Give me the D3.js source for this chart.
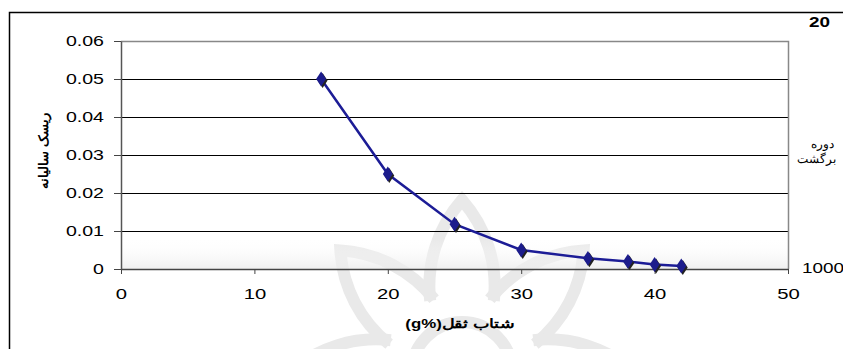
<!DOCTYPE html>
<html>
<head>
<meta charset="utf-8">
<script src="https://cdn.jsdelivr.net/npm/d3@7"></script>
<style>
  body { margin: 0; background: #fff; }
  svg { display: block; font-family: "Liberation Sans", Arial, sans-serif; }
  .tick text { font-size: 14px; fill: #000; }
</style>
</head>
<body>
<div id="chart"></div>
<script>
// data
var accel = [15, 20, 25, 30, 35, 38, 40, 42];          // شتاب ثقل (g%)
var risk = [0.05, 0.025, 0.0118, 0.005, 0.0028, 0.002, 0.0012, 0.0008];
var xTicks = [0, 10, 20, 30, 40, 50];
var yTicks = [0, 0.01, 0.02, 0.03, 0.04, 0.05, 0.06];
var returnLabels = ["20", "1000"];

var W = 843, H = 349;
var margins = { left: 121, top: 41, right: 55, bottom: 80 };
var width = W - margins.left - margins.right;
var height = H - margins.top - margins.bottom;
var stretch = 1.35;   // the source text is drawn wide

var svg = d3.select("#chart").append("svg")
    .attr("width", W).attr("height", H);

// faint watermark behind the chart
var wm = svg.append("g").attr("fill", "none").attr("stroke", "#e9e9e9").attr("stroke-width", 12);
d3.range(8).forEach(function(k) {
    var a = (-90 + k * 45) * Math.PI / 180, cx = 462, cy = 372;
    var tip = [cx + 172 * Math.cos(a), cy + 172 * Math.sin(a)];
    var b1 = [cx + 78 * Math.cos(a - 0.42), cy + 78 * Math.sin(a - 0.42)];
    var b2 = [cx + 78 * Math.cos(a + 0.42), cy + 78 * Math.sin(a + 0.42)];
    wm.append("path")
        .attr("d", "M" + b1 + "A130,130 0 0,1 " + tip + "A130,130 0 0,1 " + b2);
});
wm.append("circle").attr("cx", 462).attr("cy", 372).attr("r", 50);

// outer frame (only top and left visible)
svg.append("path")
    .attr("d", "M9.5," + H + "V12.5H" + W)
    .attr("fill", "none").attr("stroke", "#000").attr("stroke-width", 1.5);

var g = svg.append("g")
    .attr("transform", "translate(" + margins.left + "," + margins.top + ")");

var x = d3.scaleLinear().domain([0, 50]).range([0, width]);
var y = d3.scaleLinear().domain([0, 0.06]).range([height, 0]);

// faint shading near the bottom of the plot
var grad = svg.append("defs").append("linearGradient")
    .attr("id", "shade").attr("x1", 0).attr("y1", 0).attr("x2", 0).attr("y2", 1);
grad.append("stop").attr("offset", "0").attr("stop-color", "#fff").attr("stop-opacity", 0);
grad.append("stop").attr("offset", "1").attr("stop-color", "#ececec").attr("stop-opacity", 0.8);
g.append("rect")
    .attr("x", 0).attr("y", y(0.008))
    .attr("width", width).attr("height", y(0) - y(0.008))
    .attr("fill", "url(#shade)");

// grid lines
g.selectAll(".grid").data(yTicks.filter(function(d) { return d > 0 && d < 0.06; }))
    .enter().append("line")
    .attr("class", "grid")
    .attr("x1", 0).attr("x2", width)
    .attr("y1", function(d) { return Math.round(y(d)) + 0.5; })
    .attr("y2", function(d) { return Math.round(y(d)) + 0.5; })
    .attr("stroke", "#000").attr("stroke-width", 1);

// plot border top and right (gray)
g.append("path")
    .attr("d", "M0,0.5H" + (width + 0.5) + "V" + height)
    .attr("fill", "none").attr("stroke", "#888").attr("stroke-width", 1.5);

// x axis
var x_axis = d3.axisBottom(x).tickValues(xTicks).tickSize(5).tickSizeOuter(0).tickPadding(14);
var xa = g.append("g")
    .attr("transform", "translate(0," + height + ")")
    .call(x_axis);
xa.select(".domain").attr("stroke", "#444").attr("stroke-width", 1.5);
xa.selectAll(".tick line").attr("stroke", "#444");
xa.selectAll(".tick text")
    .style("font-size", "15px")
    .attr("transform", "scale(" + stretch + ",1)");

// y axis
var y_axis = d3.axisLeft(y).tickValues(yTicks).tickSize(7).tickSizeOuter(0).tickPadding(8)
    .tickFormat(function(d) { return d === 0 ? "0" : d3.format(".2f")(d); });
var ya = g.append("g").call(y_axis);
ya.select(".domain").attr("stroke", "#555").attr("stroke-width", 1.5);
ya.selectAll(".tick line").attr("stroke", "#444");
ya.selectAll(".tick text")
    .style("font-size", "14.5px")
    .attr("x", 0)
    .attr("transform", "translate(-17,0) scale(" + stretch + ",1)");

// series line
var line = d3.line()
    .x(function(d, i) { return x(accel[i]); })
    .y(function(d) { return y(d); });

g.append("path")
    .datum(risk)
    .attr("d", line)
    .attr("fill", "none")
    .attr("stroke", "#1c1c96")
    .attr("stroke-width", 2.5);

// diamond markers with a dark shadow
var diamond = d3.symbol().type(d3.symbolDiamond).size(64);
g.selectAll(".shadow").data(risk).enter().append("path")
    .attr("d", diamond)
    .attr("transform", function(d, i) { return "translate(" + (x(accel[i]) + 1.5) + "," + (y(d) + 1.5) + ") scale(1.15,1)"; })
    .attr("fill", "#222");
g.selectAll(".mark").data(risk).enter().append("path")
    .attr("d", diamond)
    .attr("transform", function(d, i) { return "translate(" + x(accel[i]) + "," + y(d) + ") scale(1.15,1)"; })
    .attr("fill", "#1c1c8c");

// axis titles
svg.append("text")
    .attr("transform", "translate(460,328) scale(" + stretch + ",1)")
    .attr("text-anchor", "middle")
    .attr("font-size", 12.5).attr("font-weight", "bold")
    .text("(g%)شتاب ثقل");

svg.append("text")
    .attr("transform", "translate(48,151) rotate(-90)")
    .attr("text-anchor", "middle")
    .attr("direction", "rtl")
    .attr("font-size", 12.5).attr("font-weight", "bold")
    .text("ریسک سالیانه");

// right side return period labels
svg.append("text")
    .attr("transform", "translate(809,27) scale(" + stretch + ",1)")
    .attr("font-size", 14).attr("font-weight", "bold")
    .text(returnLabels[0]);

svg.append("text")
    .attr("transform", "translate(802,273) scale(" + stretch + ",1)")
    .attr("font-size", 14)
    .text(returnLabels[1]);

svg.append("text")
    .attr("x", 834).attr("y", 148)
    .attr("text-anchor", "start").attr("direction", "rtl")
    .attr("font-size", 12)
    .text("دوره");
svg.append("text")
    .attr("x", 836).attr("y", 163)
    .attr("text-anchor", "start").attr("direction", "rtl")
    .attr("font-size", 12)
    .text("برگشت");
</script>
</body>
</html>
